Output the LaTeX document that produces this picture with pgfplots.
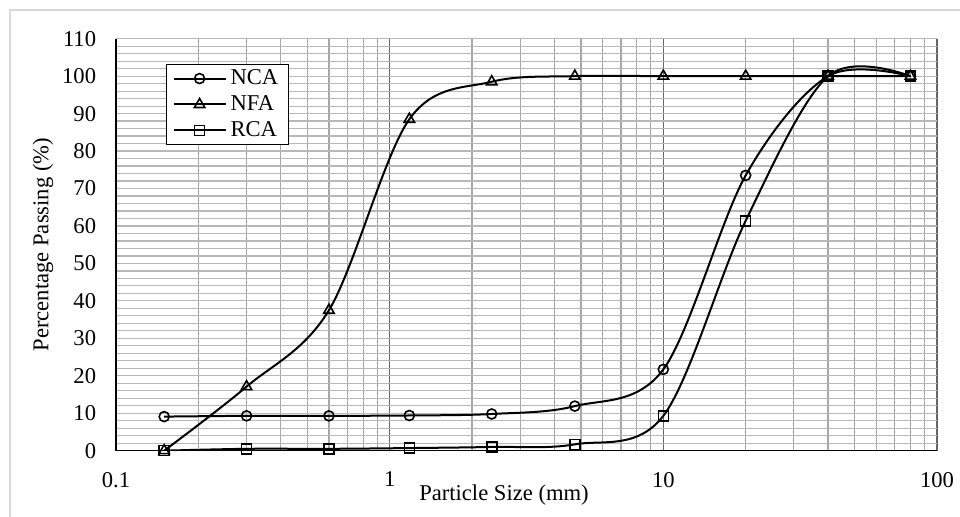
\documentclass[border=0pt]{standalone}
\usepackage{fontspec}
\setmainfont{Liberation Serif}
\usepackage{pgfplots}
\pgfplotsset{compat=1.18}
\begin{document}
\fontsize{11.3}{13.5}\selectfont
\begin{tikzpicture}
\path[use as bounding box] (0,0) rectangle (480pt,258.5pt);
% outer chart frame (only top/left visible in the reference crop)
\draw[black!15, line width=0.9pt] (5pt,0) -- (5pt,253.5pt) -- (480pt,253.5pt);
\begin{semilogxaxis}[
    at={(58pt,33.15pt)}, anchor=south west,
    scale only axis, width=410.5pt, height=206pt,
    xmin=0.1, xmax=100, ymin=0, ymax=110,
    xtick={0.1,1,10,100}, xticklabels={0.1,1,10,100},
    ytick={0,10,...,110}, minor y tick num=4,
    /pgf/number format/assume math mode=true,
    grid=both,
    major x grid style={black!60, line width=0.75pt},
    minor x grid style={black!35, line width=0.6pt},
    major y grid style={black!28, line width=0.6pt},
    minor y grid style={black!28, line width=0.6pt},
    axis x line*=bottom, axis y line*=left,
    axis line style={-, black, line width=0.8pt},
    major tick length=0pt, minor tick length=0pt,
    yticklabel style={xshift=-6pt},
    xticklabel style={yshift=-6.7pt},
    xlabel={Particle Size (mm)},
    ylabel={Percentage Passing (\%)},
    xlabel style={at={([yshift=-13.2pt]axis description cs:0.4726,0)}, anchor=north},
    ylabel style={at={([xshift=-36.5pt]axis description cs:0,0.5)}, anchor=center, rotate=0},
    legend style={at={(0.0609,0.9386)}, anchor=north west, draw=black, line width=0.6pt,
        inner xsep=3pt, inner ysep=0.5pt, row sep=0pt,
        nodes={inner xsep=2pt, inner ysep=1.9pt}},
    legend cell align=left,
    legend image code/.code={
        \draw[mark repeat=2, mark phase=2, #1] plot coordinates {(0pt,0pt) (13pt,0pt) (26pt,0pt)};
    },
]
% NCA
\addplot[black, line width=1pt, smooth, tension=0.55, mark=o, mark size=2.5pt,
    mark options={solid, line width=0.8pt}]
    coordinates {(0.15,9.1) (0.3,9.3) (0.6,9.3) (1.18,9.4) (2.36,9.8) (4.75,11.9) (10,21.7) (20,73.5) (40,100) (80,100)};
\addlegendentry{NCA}
% NFA
\addplot[black, line width=1pt, smooth, tension=0.55, mark=triangle, mark size=3pt,
    mark options={solid, line width=0.8pt}]
    coordinates {(0.15,0) (0.3,17.1) (0.6,37.5) (1.18,88.5) (2.36,98.5) (4.75,100) (10,100) (20,100) (40,100) (80,100)};
\addlegendentry{NFA}
% RCA
\addplot[black, line width=1pt, smooth, tension=0.55, mark=square, mark size=2.5pt,
    mark options={solid, line width=0.8pt}]
    coordinates {(0.15,0) (0.3,0.5) (0.6,0.5) (1.18,0.7) (2.36,1.0) (4.75,1.7) (10,9.3) (20,61.4) (40,100) (80,100)};
\addlegendentry{RCA}
\end{semilogxaxis}
\end{tikzpicture}
\end{document}
